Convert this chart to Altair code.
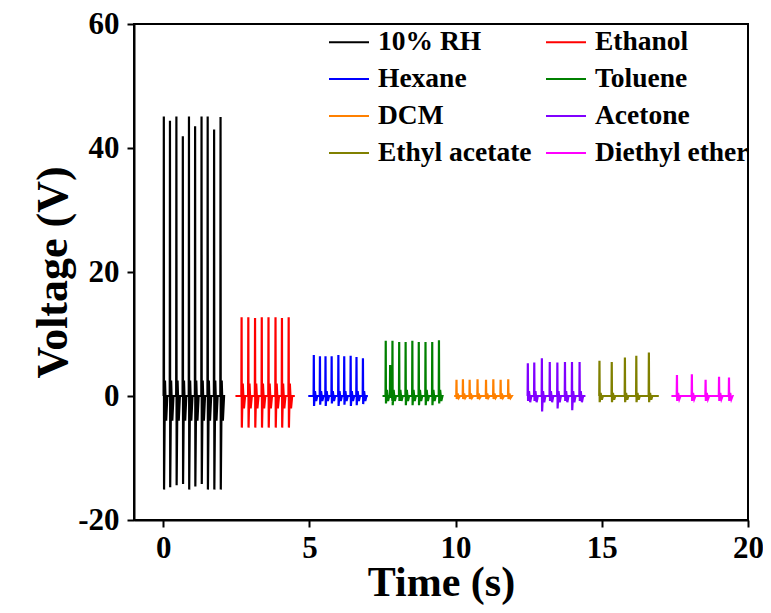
import altair as alt
import pandas as pd

series = ["10% RH", "Ethanol", "Hexane", "Toluene", "DCM", "Acetone", "Ethyl acetate", "Diethyl ether"]
colors = ["#000000", "#FF0000", "#0000FF", "#008000", "#FF8000", "#8000FF", "#808000", "#FF00FF"]

# legend is filled column by column, so list the two columns one after the other
legend_order = ["10% RH", "Hexane", "DCM", "Ethyl acetate", "Ethanol", "Toluene", "Acetone", "Diethyl ether"]

trace_start = [0.0, 2.47, 4.96, 7.50, 9.95, 12.44, 14.90, 17.38]
trace_end = [2.03, 4.50, 7.00, 9.50, 11.90, 14.44, 16.95, 19.46]

spike_t = [
    [0.02, 0.23, 0.45, 0.67, 0.88, 1.09, 1.31, 1.52, 1.74, 1.96],
    [2.68, 2.91, 3.14, 3.37, 3.60, 3.84, 4.06, 4.29],
    [5.15, 5.36, 5.55, 5.76, 5.99, 6.19, 6.41, 6.61, 6.83],
    [7.61, 7.76, 7.84, 8.07, 8.29, 8.52, 8.74, 8.97, 9.20, 9.43],
    [10.03, 10.25, 10.48, 10.75, 11.04, 11.29, 11.54, 11.80],
    [12.47, 12.69, 12.95, 13.22, 13.48, 13.74, 13.98, 14.24],
    [14.92, 15.34, 15.79, 16.18, 16.61],
    [17.57, 18.08, 18.55, 19.01, 19.35],
]
spike_peak = [
    [45.1, 44.4, 45.1, 41.9, 45.1, 43.5, 45.1, 45.1, 43.0, 45.0],
    [12.7, 12.7, 12.6, 12.7, 12.7, 12.7, 12.6, 12.7],
    [6.6, 6.4, 6.4, 6.4, 6.6, 6.4, 6.5, 6.3, 6.1],
    [8.9, 5.0, 8.9, 8.7, 8.7, 8.9, 8.7, 8.7, 8.7, 9.0],
    [2.6, 2.7, 2.6, 2.7, 2.6, 2.7, 2.6, 2.7],
    [5.3, 5.4, 6.1, 5.5, 5.4, 5.5, 5.5, 5.5],
    [5.7, 5.5, 6.2, 6.5, 7.0],
    [3.4, 3.5, 2.6, 3.1, 3.0],
]
spike_neg = [
    [-15.1, -14.7, -14.4, -14.2, -15.1, -14.6, -14.2, -15.1, -15.1, -15.1],
    [-5.1, -5.1, -5.1, -5.1, -5.1, -5.1, -5.1, -5.1],
    [-1.6, -1.4, -1.6, -1.2, -1.6, -1.4, -1.6, -1.5, -1.3],
    [-1.2, -0.3, -1.5, -0.8, -1.5, -1.5, -1.5, -1.5, -1.5, -1.2],
    [-0.5, -0.5, -0.5, -0.5, -0.5, -0.5, -0.5, -0.5],
    [-0.8, -0.8, -2.5, -0.8, -2.0, -0.8, -2.3, -0.8],
    [-1.0, -1.0, -1.0, -1.0, -1.0],
    [-0.8, -0.8, -0.8, -0.8, -0.8],
]
ring_up = [2.5, 2.0, 0.8, 1.0, 0.4, 0.8, 0.5, 0.5]
ring_dn = [-4.0, -2.0, -0.8, -0.8, -0.3, -1.0, -0.6, -0.5]

rows = []
for s, name in enumerate(series):
    k = 0
    rows.append({"t": trace_start[s], "v": 0.0, "series": name, "i": k}); k += 1
    for t, p, n in zip(spike_t[s], spike_peak[s], spike_neg[s]):
        for dt, v in [(-0.008, 0.0), (0.0, p), (0.008, n), (0.04, ring_up[s]),
                      (0.08, ring_dn[s]), (0.12, 0.0)]:
            rows.append({"t": t + dt, "v": v, "series": name, "i": k}); k += 1
    rows.append({"t": trace_end[s], "v": 0.0, "series": name, "i": k})

df = pd.DataFrame(rows)

color_of = dict(zip(series, colors))
legend_colors = [color_of[n] for n in legend_order]

FONT = "Liberation Serif"

chart = alt.Chart(df).mark_line(strokeWidth=2.2, clip=True).encode(
    x=alt.X("t:Q", scale=alt.Scale(domain=[-1, 20], nice=False, zero=False),
            axis=alt.Axis(values=[0, 5, 10, 15, 20], title="Time (s)", grid=False,
                          labelFlush=False, labelOverlap=False,
                          labelExpr="'' + datum.value", labelPadding=6, titlePadding=-1,
                          titleFontSize=42)),
    y=alt.Y("v:Q", scale=alt.Scale(domain=[-20, 60], nice=False, zero=False),
            axis=alt.Axis(values=[-20, 0, 20, 40, 60], title="Voltage (V)", grid=False,
                          labelFlush=False, labelOverlap=False,
                          labelExpr="'' + datum.value", labelPadding=8, titlePadding=2)),
    color=alt.Color("series:N", scale=alt.Scale(domain=legend_order, range=legend_colors),
                    legend=alt.Legend(orient="none", legendX=194, legendY=-3, columns=2,
                                      title=None, symbolType="stroke", symbolSize=1600,
                                      symbolStrokeWidth=2, labelFont=FONT, labelFontSize=27.5,
                                      labelFontWeight="bold", labelColor="black",
                                      labelOffset=8, rowPadding=2, columnPadding=10,
                                      padding=0)),
    order="i:Q",
    detail="series:N",
).properties(
    width=614, height=496,
    autosize=alt.AutoSizeParams(type="none"),
    padding={"left": 126, "top": 16, "right": 15, "bottom": 85},
).configure_view(
    stroke="black", strokeWidth=2
).configure_axis(
    domainColor="black", domainWidth=2, tickColor="black", tickWidth=2, tickSize=7,
    labelFont=FONT, labelFontSize=31, labelFontWeight="bold", labelColor="black",
    titleFont=FONT, titleFontSize=44, titleFontWeight="bold", titleColor="black"
)

chart.save("out.html", embed_options={"renderer": "svg", "actions": False})
